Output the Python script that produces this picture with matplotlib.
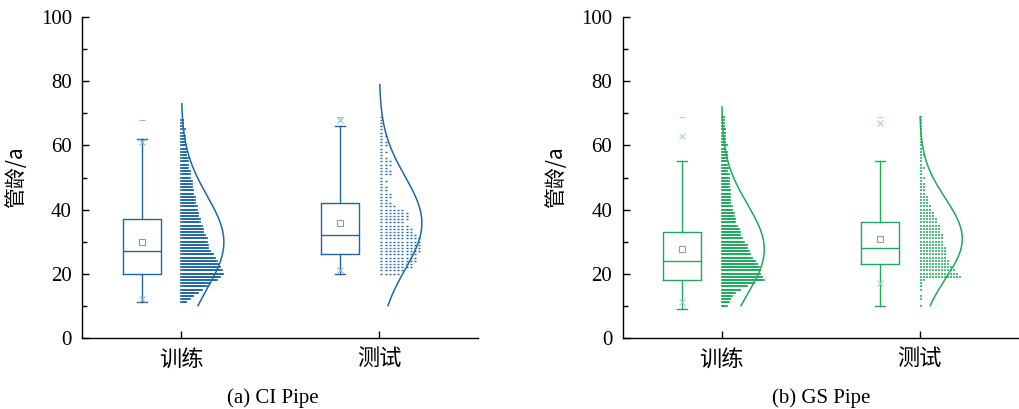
import numpy as np
import matplotlib.pyplot as plt

# ---- values ----
groups = ['训练', '测试']
panel_titles = ['(a) CI Pipe', '(b) GS Pipe']
panel_colors = ['#2166a3', '#1daa5b']
light_colors = ['#9db6cf', '#a6dbbb']
mean_colors = ['#7f9bb8', '#8fa596']

# box statistics, [train, test]
ci_q1 = [20, 26]
ci_med = [27, 32]
ci_q3 = [37, 42]
ci_mean = [29.8, 35.8]
ci_whislo = [11, 20]
ci_whishi = [62, 66]
ci_p1 = [12, 21]
ci_p99 = [61, 68]
ci_max = [68, 69]

gs_q1 = [18, 23]
gs_med = [24, 28]
gs_q3 = [33, 36]
gs_mean = [27.6, 30.9]
gs_whislo = [9, 10]
gs_whishi = [55, 55]
gs_p1 = [11, 17]
gs_p99 = [63, 67]
gs_max = [69, 69]

# data points per age row (first age, then counts for each following year)
ci_train_start = 11
ci_train_counts = [3, 5, 7, 10, 12, 15, 17, 21, 23, 25, 24, 23, 22, 21, 20, 19,
                   17, 16, 16, 15, 15, 14, 13, 13, 12, 11, 11, 10, 10, 9, 9, 8,
                   8, 8, 7, 7, 6, 6, 6, 5, 5, 5, 4, 4, 4, 4, 3, 3, 3, 3, 2, 2,
                   2, 1, 2, 1, 1, 1]
ci_test_start = 20
ci_test_counts = [5, 6, 8, 8, 9, 9, 9, 10, 10, 10, 10, 10, 9, 8, 8, 7, 6, 7,
                  7, 7, 6, 4, 3, 2, 3, 3, 2, 2, 1, 2, 1, 3, 3, 2, 3, 3, 2, 1,
                  2, 1, 2, 2, 1, 2, 1, 1, 1, 1, 1, 1]
gs_train_start = 10
gs_train_counts = [3, 4, 5, 6, 8, 11, 15, 19, 25, 24, 23, 23, 22, 21, 20, 18,
                   17, 16, 15, 15, 13, 12, 11, 11, 10, 9, 8, 8, 7, 7, 6, 6, 5,
                   5, 5, 5, 5, 4, 4, 4, 4, 4, 3, 4, 3, 3, 3, 3, 3, 2, 3, 2, 2,
                   2, 2, 2, 1, 1, 1, 1]
gs_test_start = 10
gs_test_counts = [1, 0, 1, 1, 0, 1, 1, 1, 2, 14, 13, 12, 11, 10, 10, 9, 9, 9,
                  9, 8, 8, 8, 8, 7, 7, 7, 6, 6, 5, 5, 4, 4, 3, 3, 3, 2, 2, 2,
                  2, 1, 2, 1, 1, 2, 1, 1, 1, 2, 1, 1, 1, 1, 1, 1, 1, 1, 1, 1,
                  1, 1]

# normal distribution curve: sd and drawn range per group
ci_sd = [14.5, 14.5]
gs_sd = [14.0, 12.5]
ci_curve_lo = [10, 10]
ci_curve_hi = [73, 79]
gs_curve_lo = [10, 10]
gs_curve_hi = [72, 69]

panels = [
    dict(q1=ci_q1, med=ci_med, q3=ci_q3, mean=ci_mean, lo=ci_whislo, hi=ci_whishi,
         p1=ci_p1, p99=ci_p99, mx=ci_max, starts=[ci_train_start, ci_test_start],
         counts=[ci_train_counts, ci_test_counts], sd=ci_sd,
         clo=ci_curve_lo, chi=ci_curve_hi, row_ms=[2.6, 1.6], row_mew=[1.2, 1.0]),
    dict(q1=gs_q1, med=gs_med, q3=gs_q3, mean=gs_mean, lo=gs_whislo, hi=gs_whishi,
         p1=gs_p1, p99=gs_p99, mx=gs_max, starts=[gs_train_start, gs_test_start],
         counts=[gs_train_counts, gs_test_counts], sd=gs_sd,
         clo=gs_curve_lo, chi=gs_curve_hi, row_ms=[2.6, 2.1], row_mew=[1.2, 1.1]),
]

positions = np.array([1, 2])
BOX_SHIFT = -0.2
BOX_W = 0.19
ROW_W = 0.212
CURVE_W = 0.215
cjk = 'Noto Sans CJK SC'
serif = 'Liberation Serif'

plt.rcParams['font.family'] = [serif, cjk]

fig = plt.figure(figsize=(10.2, 4.09), dpi=100)
ax_rects = [[82.3 / 1020, 71.3 / 409, 396 / 1020, 320.4 / 409],
            [622.7 / 1020, 71.3 / 409, 396 / 1020, 320.4 / 409]]
title_x = [272.5 / 1020, 821 / 1020]

for i, p in enumerate(panels):
    ax = fig.add_axes(ax_rects[i])
    col = panel_colors[i]
    light = light_colors[i]
    box_pos = positions + BOX_SHIFT

    stats = []
    for k in range(2):
        stats.append(dict(q1=p['q1'][k], med=p['med'][k], q3=p['q3'][k],
                          mean=p['mean'][k], whislo=p['lo'][k],
                          whishi=p['hi'][k], fliers=[]))
    lp = dict(color=col, linewidth=1.0)
    ax.bxp(stats, positions=box_pos, widths=BOX_W, showmeans=True,
           showfliers=False, boxprops=lp, whiskerprops=lp, capprops=lp,
           medianprops=lp, capwidths=0.05, manage_ticks=False,
           meanprops=dict(marker='s', markersize=5, markerfacecolor='none',
                          markeredgecolor=mean_colors[i], markeredgewidth=0.8))
    # 1% / 99% crosses and max dash
    ax.plot(box_pos, p['p1'], ls='none', marker='x', ms=5, mew=0.8, color=light)
    ax.plot(box_pos, p['p99'], ls='none', marker='x', ms=5, mew=0.8, color=light)
    ax.plot(box_pos, p['mx'], ls='none', marker='_', ms=5, mew=0.8, color=light)

    for k in range(2):
        x0 = positions[k]
        counts = np.asarray(p['counts'][k])
        ages = p['starts'][k] + np.arange(len(counts))
        dx = ROW_W / counts.max()
        xs, ys = [], []
        for a, n in zip(ages, counts):
            xs.extend(x0 + dx * (0.5 + np.arange(n)))
            ys.extend([a] * n)
        ax.plot(xs, ys, ls='none', marker='_', ms=p['row_ms'][k],
                mew=p['row_mew'][k], color=col)

        yy = np.linspace(p['clo'][k], p['chi'][k], 300)
        dens = np.exp(-0.5 * ((yy - p['mean'][k]) / p['sd'][k]) ** 2)
        ax.plot(x0 + CURVE_W * dens, yy, color=col, lw=1.1)

    ax.set_xlim(0.5, 2.5)
    ax.set_ylim(0, 100)
    for s in ['top', 'right']:
        ax.spines[s].set_visible(False)
    for s in ['left', 'bottom']:
        ax.spines[s].set_linewidth(1.0)
    ax.set_yticks(range(0, 101, 20))
    ax.set_yticks(range(10, 100, 20), minor=True)
    ax.tick_params(axis='y', which='major', direction='in', length=5, width=1,
                   labelsize=15, pad=7.5)
    ax.tick_params(axis='y', which='minor', direction='in', length=3.5, width=1)
    ax.set_xticks(positions)
    ax.set_xticklabels(groups, fontfamily=cjk, fontsize=16)
    ax.tick_params(axis='x', direction='in', length=5, width=1, pad=7)
    ax.set_ylabel('管龄/a', fontfamily=cjk, fontsize=15)
    ax.yaxis.set_label_coords(-0.14, 0.5)

    fig.text(title_x[i], 0.027, panel_titles[i], ha='center', va='center',
             fontsize=15, family=serif)

fig.savefig('out.png', dpi=100)
